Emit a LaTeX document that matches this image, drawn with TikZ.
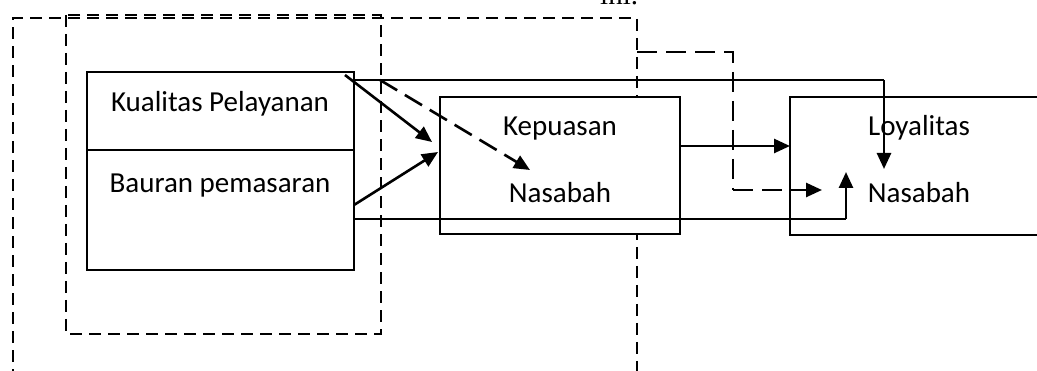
\documentclass[tikz,border=0pt]{standalone}
\usepackage{fontspec}
\setmainfont{Carlito}
\newfontfamily\serifini{Liberation Serif}
\usetikzlibrary{arrows.meta}
\begin{document}
\begin{tikzpicture}[x=1pt,y=-1pt,
  box/.style={draw,line width=2pt,fill=white,inner sep=0,outer sep=0},
  lbl/.style={font=\fontsize{29}{34}\selectfont,inner sep=0,anchor=base},
  conn/.style={line width=2.6pt},
  arr/.style={conn,-{Triangle[length=16pt,width=14pt]}},
  dshA/.style={line width=2.2pt,dash pattern=on 12pt off 7pt},
  dshB/.style={line width=2.6pt,dash pattern=on 20pt off 9pt},
]
\useasboundingbox (0,0) rectangle (1037,371);
% dashed frames
\draw[dshA] (13,400) -- (13,18) -- (637,18) -- (637,400);
\draw[dshA] (66,15) rectangle (381,334);
% boxes
\node[box,minimum width=267pt,minimum height=78pt] (kq) at (220.5,111) {};
\node[box,minimum width=267pt,minimum height=120pt] (bp) at (220.5,210) {};
\node[box,minimum width=240pt,minimum height=137pt] (kep) at (560,165.5) {};
\node[box,minimum width=270pt,minimum height=138pt] (loy) at (925,166) {};
% labels
\node[lbl] (tkq) at (220,112) {Kualitas Pelayanan};
\node[lbl] (tbp) at (220,193) {Bauran pemasaran};
\node[lbl] (tkep) at (560,136) {Kepuasan};
\node[lbl] (tnas1) at (560,203) {Nasabah};
\node[lbl] (tloy) at (919,136) {Loyalitas};
\node[lbl] (tnas2) at (919,203) {Nasabah};
\node[font=\serifini\fontsize{29}{34}\selectfont,anchor=base west,inner sep=0] (ini) at (600,5) {ini.};
% connector end points
\coordinate (topS) at (354,80);
\coordinate (topC) at (884,80);
\coordinate (topE) at (884,169);
\coordinate (botS) at (354,219);
\coordinate (botC) at (846,219);
\coordinate (botE) at (846,172);
\coordinate (kqS) at (345,75);
\coordinate (kqE) at (432,142);
\coordinate (bpS) at (354,205);
\coordinate (bpE) at (438,152);
\coordinate (dS) at (380,80);
\coordinate (dE) at (530,170);
\coordinate (klS) at (680,146);
\coordinate (klE) at (790,146);
\coordinate (d2S) at (637,52);
\coordinate (d2a) at (733,52);
\coordinate (d2b) at (733,190);
\coordinate (d2E) at (822,190);
% connectors
\draw[line width=2pt] (topS) -- (topC);
\draw[arr] (topC) -- (topE);
\draw[line width=2pt] (botS) -- (botC);
\draw[arr] (botC) -- (botE);
\draw[arr] (kqS) -- (kqE);
\draw[arr] (bpS) -- (bpE);
\draw[arr,dshB] (dS) -- (dE);
\draw[arr] (klS) -- (klE);
\draw[dshB] (d2S) -- (d2a) -- (d2b);
\draw[arr,dshB] (d2b) -- (d2E);
\end{tikzpicture}
\end{document}
